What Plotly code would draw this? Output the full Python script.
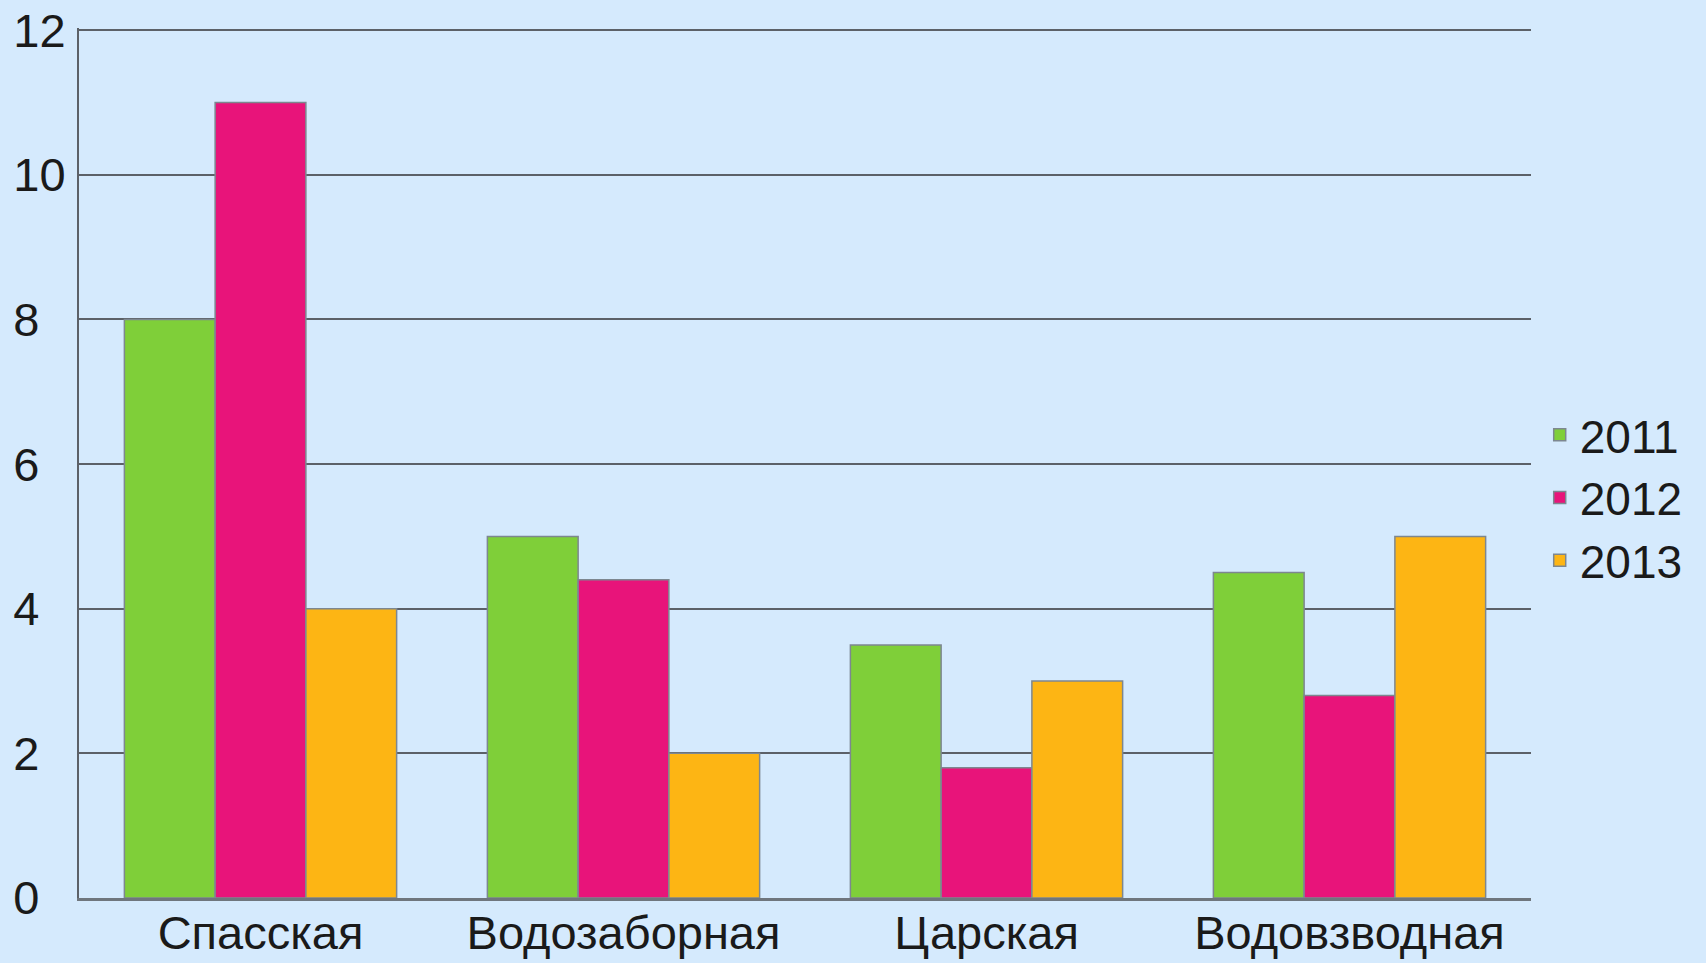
import plotly.graph_objects as go

# Data
categories = ['Спасская', 'Водозаборная', 'Царская', 'Водовзводная']
years = ['2011', '2012', '2013']
values_2011 = [8, 5, 3.5, 4.5]
values_2012 = [11, 4.4, 1.8, 2.8]
values_2013 = [4, 2, 3, 5]
y_ticks = [0, 2, 4, 6, 8, 10, 12]

COLORS = {
    '2011': '#7fcf39',
    '2012': '#e8147a',
    '2013': '#fdb514',
    'bg': '#d5eafd',
    'grid': '#5c6168',
    'text': '#1a1a1a',
}

FONT = 'Liberation Sans, Arial, sans-serif'

# the source chart left-aligns its y labels; pad single digits with a figure space
y_ticktext = [f'{v}\u2007' if v < 10 else str(v) for v in y_ticks]

fig = go.Figure()
for year, vals in zip(years, [values_2011, values_2012, values_2013]):
    fig.add_trace(go.Bar(
        x=categories,
        y=vals,
        name=year,
        marker=dict(color=COLORS[year], line=dict(color='#7d8790', width=1.5)),
    ))

fig.update_layout(
    width=1706,
    height=963,
    barmode='group',
    bargap=0.25,
    bargroupgap=0,
    paper_bgcolor=COLORS['bg'],
    plot_bgcolor=COLORS['bg'],
    font=dict(family=FONT, size=47, color=COLORS['text']),
    margin=dict(l=79, r=175, t=28, b=65, autoexpand=False),
    legend=dict(
        x=1.006, y=0.46, xanchor='left', yanchor='middle',
        font=dict(size=46), bgcolor='rgba(0,0,0,0)',
        itemwidth=30, tracegroupgap=0,
    ),
)

fig.update_xaxes(
    automargin=False,
    showgrid=False,
    showline=True, linecolor='#6f767d', linewidth=3,
    ticks='', ticklabelstandoff=-8,
    tickfont=dict(size=47),
)
fig.update_yaxes(
    automargin=False,
    range=[0, 12.03],
    tickvals=y_ticks,
    ticktext=y_ticktext,
    showgrid=True, gridcolor=COLORS['grid'], gridwidth=2,
    zeroline=False,
    showline=True, linecolor=COLORS['grid'], linewidth=2,
    ticks='', ticklabelstandoff=2,
)

# page body has an 8px default margin; drop it so the figure fills the window
fig.write_html(
    "out.html",
    config={'displayModeBar': False},
    post_script="document.body.style.margin='0';",
)
